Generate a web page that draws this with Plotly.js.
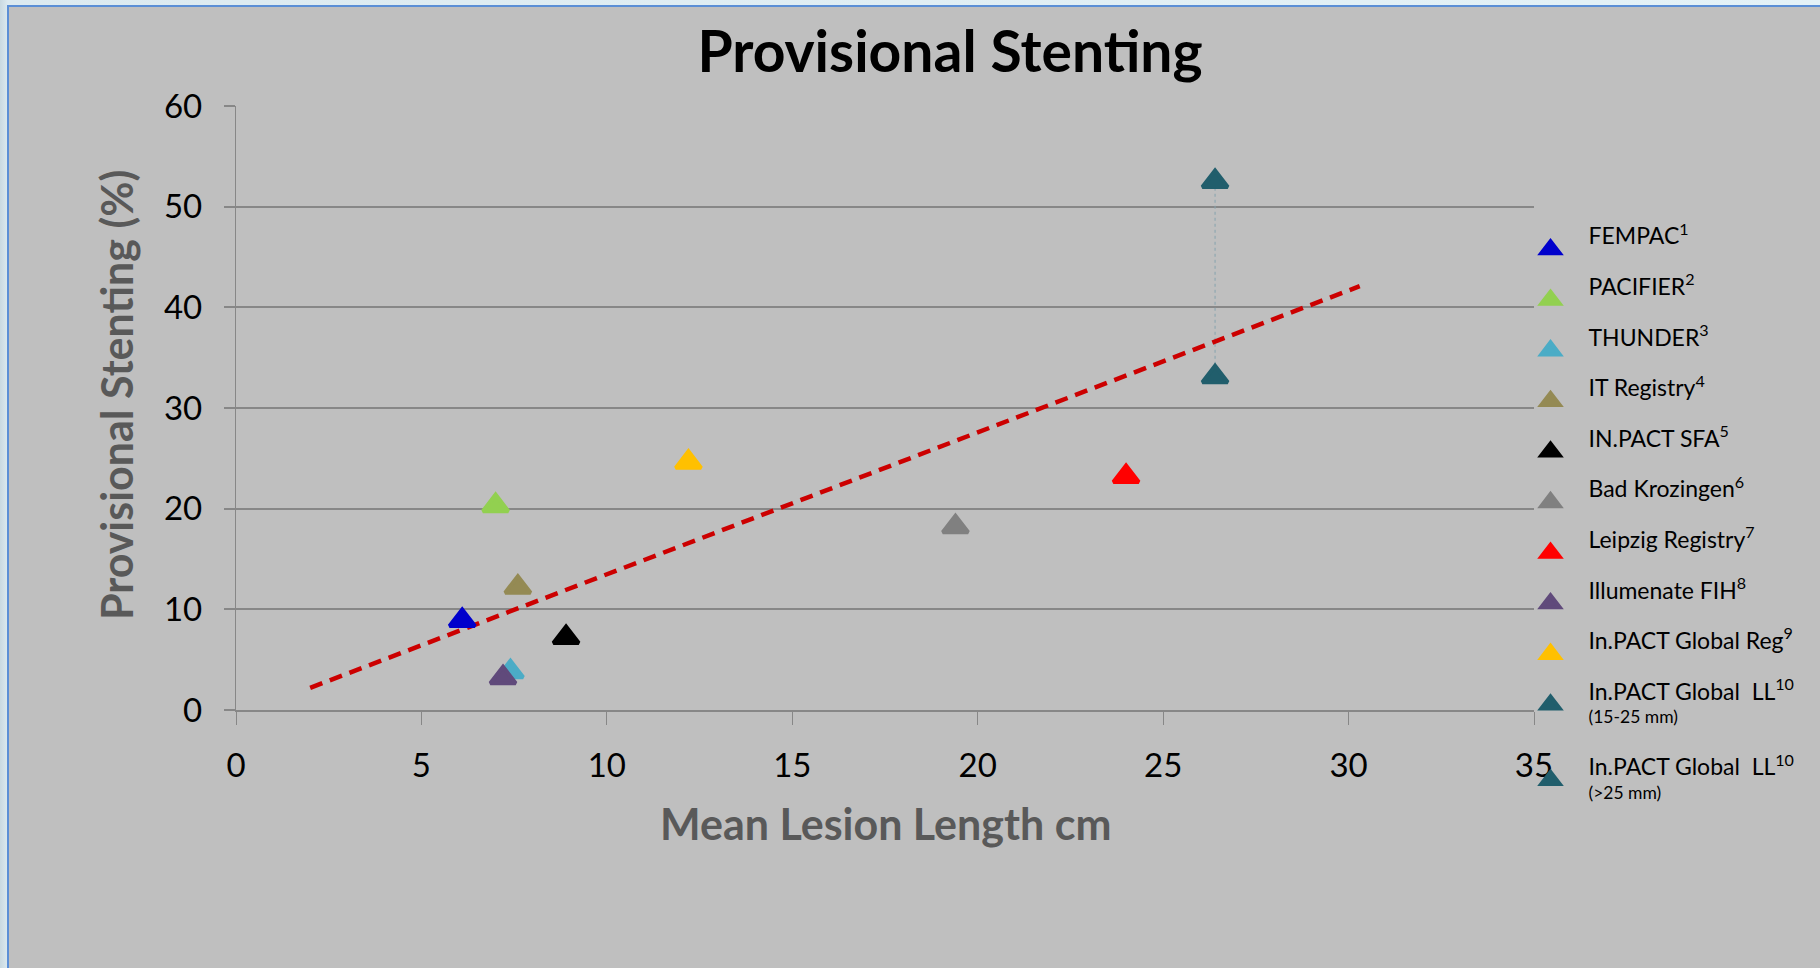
<!DOCTYPE html>
<html>
<head>
<meta charset="utf-8">
<script src="https://cdn.plot.ly/plotly-3.0.1.min.js"></script>
<style>
  html, body { margin: 0; padding: 0; width: 1820px; height: 968px; overflow: hidden;
    background: linear-gradient(90deg, #C9D9E1 0px, #DCEAF0 8px, #E4F2F7 100%); }
  #frame { position: absolute; left: 7px; top: 5px; width: 1813px; height: 963px;
    background: #BFBFBF; border-left: 2px solid #5B8FD6; border-top: 2px solid #5B8FD6; box-sizing: border-box; }
  #chart { position: absolute; left: 0; top: 0; width: 1820px; height: 968px; }
</style>
</head>
<body>
<div id="frame"></div>
<div id="chart"></div>
<script>
// ---- data ----
const studies = ['FEMPAC', 'PACIFIER', 'THUNDER', 'IT Registry', 'IN.PACT SFA', 'Bad Krozingen',
  'Leipzig Registry', 'Illumenate FIH', 'In.PACT Global Reg', 'In.PACT Global\u00A0\u00A0LL', 'In.PACT Global\u00A0\u00A0LL'];
const refNumbers = ['1', '2', '3', '4', '5', '6', '7', '8', '9', '10', '10'];
const subLabels = ['', '', '', '', '', '', '', '', '', '(15-25 mm)', '(>25 mm)'];
const meanLesionLength = [6.1, 7.0, 7.4, 7.6, 8.9, 19.4, 24.0, 7.2, 12.2, 26.4, 26.4];
const provisionalStenting = [8.9, 20.3, 3.8, 12.2, 7.2, 18.2, 23.2, 3.2, 24.6, 33.1, 52.5];
const markerColors = ['#0000CC', '#92D050', '#4BACC6', '#948A54', '#000000', '#808080',
  '#FF0000', '#604A7B', '#FFC000', '#215E6C', '#215E6C'];
const trendX = [2.0, 30.3];
const trendY = [2.2, 42.1];
const xTicks = [0, 5, 10, 15, 20, 25, 30, 35];
const yTicks = [0, 10, 20, 30, 40, 50, 60];

const FONT = 'Lato, "Open Sans", sans-serif';

const traces = [];
// dotted connector between the two In.PACT Global LL points
traces.push({
  x: [meanLesionLength[9], meanLesionLength[10]],
  y: [provisionalStenting[9], provisionalStenting[10]],
  mode: 'lines', type: 'scatter', showlegend: false, hoverinfo: 'skip',
  legendgroup: 'a',
  line: { color: '#86A3AE', width: 1, dash: 'dot' }
});
// trend line
traces.push({
  x: trendX, y: trendY, mode: 'lines', type: 'scatter', showlegend: false,
  legendgroup: 'a',
  line: { color: '#CC0000', width: 4.5, dash: '13px,8px' }
});

studies.forEach((name, i) => {
  let label = '<span style="font-size:23px">' + name + '<sup>' + refNumbers[i] + '</sup></span><br>';
  label += subLabels[i] ? '<span style="font-size:17.5px">' + subLabels[i] + '</span>' : '\u00A0';
  traces.push({
    x: [meanLesionLength[i]], y: [provisionalStenting[i]],
    mode: 'markers', type: 'scatter', name: label,
    legendgroup: i === studies.length - 1 ? 'b' : 'a',
    marker: { symbol: 'triangle-up', size: 22, color: markerColors[i],
      line: { color: markerColors[i], width: 4 } }
  });
});

const L = 236, R = 1534.5, T = 105.6, B = 710.4, W = 1820, H = 968;
const pw = R - L, ph = B - T;
const px2x = p => (p - L) / pw;
const px2y = p => (B - p) / ph;

const layout = {
  width: W, height: H,
  margin: { l: L, r: W - R, t: T, b: H - B, autoexpand: false },
  paper_bgcolor: 'rgba(0,0,0,0)',
  plot_bgcolor: 'rgba(0,0,0,0)',
  font: { family: FONT, color: '#000' },
  title: {
    text: '<b>Provisional Stenting</b>',
    font: { family: FONT, size: 57, color: '#000' },
    x: 950 / W, xref: 'container', xanchor: 'center',
    y: 1 - 52 / H, yref: 'container', yanchor: 'middle'
  },
  xaxis: {
    range: [0, 35], tickvals: xTicks, ticktext: xTicks.map(String),
    showgrid: false, zeroline: false,
    showline: true, linecolor: '#878787', linewidth: 1.5,
    ticks: 'outside', ticklen: 13, tickcolor: '#878787', tickwidth: 1.3,
    tickfont: { family: FONT, size: 33, color: '#000' },
    ticklabelstandoff: 13, fixedrange: true
  },
  yaxis: {
    range: [0, 60], tickvals: yTicks, ticktext: yTicks.map(String),
    showgrid: true, gridcolor: '#878787', gridwidth: 1.5,
    zeroline: false, showline: true, linecolor: '#878787', linewidth: 1.3,
    ticks: 'outside', ticklen: 11, tickcolor: '#878787', tickwidth: 1.5,
    tickfont: { family: FONT, size: 33, color: '#000' },
    ticklabelstandoff: 15, fixedrange: true
  },
  showlegend: true,
  legend: {
    x: px2x(1513), xanchor: 'left', y: px2y(218.7), yanchor: 'top',
    bgcolor: 'rgba(0,0,0,0)', borderwidth: 0,
    font: { family: FONT, size: 18.3, color: '#000' },
    itemwidth: 66, tracegroupgap: 25, traceorder: 'grouped',
    itemclick: false, itemdoubleclick: false
  },
  annotations: [
    {
      text: '<b>Mean Lesion Length cm</b>', xref: 'paper', yref: 'paper',
      x: 0.5, y: px2y(824), xanchor: 'center', yanchor: 'middle', showarrow: false,
      font: { family: FONT, size: 43, color: '#595959' }
    },
    {
      text: '<b>Provisional Stenting (%)</b>', xref: 'paper', yref: 'paper',
      x: px2x(116), y: px2y(395), xanchor: 'center', yanchor: 'middle', showarrow: false,
      textangle: -90,
      font: { family: FONT, size: 43, color: '#595959' }
    }
  ]
};

Plotly.newPlot('chart', traces, layout, { displayModeBar: false, staticPlot: false });
</script>
</body>
</html>
